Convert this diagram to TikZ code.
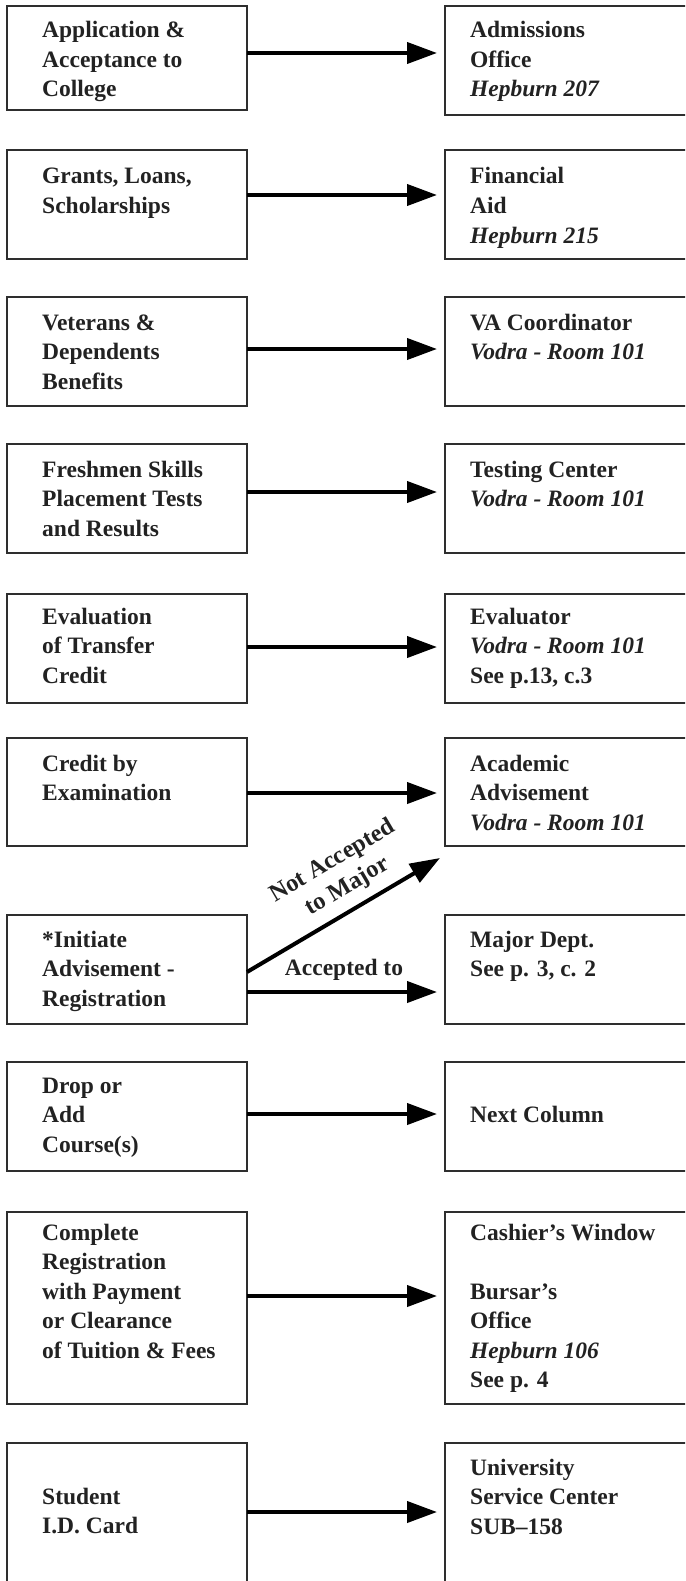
\documentclass[tikz,border=0pt]{standalone}
\usepackage{fontspec}
\setmainfont{Liberation Serif}
\usetikzlibrary{arrows.meta,calc}
\definecolor{bx}{HTML}{2E2E2E}
\definecolor{tx}{HTML}{222222}
\newcommand\fbody{\fontsize{23.5}{29.5}\selectfont\bfseries}
\newcommand\flab{\fontsize{24.5}{29.5}\selectfont\bfseries}
\newcommand\lines[1]{\parbox[t]{320pt}{\raggedright\fbody #1}}
\begin{document}
\begin{tikzpicture}[x=1pt,y=-1pt,
  lbox/.style={draw=bx, line width=2pt, anchor=north west, minimum width=240pt, inner sep=0pt, outer sep=0pt},
  rbox/.style={draw=bx, line width=2pt, anchor=north west, minimum width=260pt, inner sep=0pt, outer sep=0pt},
  txt/.style={anchor=base west, inner sep=0pt, text=tx},
  arr/.style={line width=4pt, -{Triangle[length=30pt,width=21pt]}},
  harr/.style={arr, shorten >=8pt},
]
\useasboundingbox (0,0) rectangle (685,1581);
\clip (0,0) rectangle (685,1581);

% boxes
\node[lbox, minimum height=104pt] (L1) at (7,6) {};
\node[rbox, minimum height=109pt] (R1) at (445,6) {};
\node[lbox, minimum height=109pt] (L2) at (7,150) {};
\node[rbox, minimum height=109pt] (R2) at (445,150) {};
\node[lbox, minimum height=109pt] (L3) at (7,297) {};
\node[rbox, minimum height=109pt] (R3) at (445,297) {};
\node[lbox, minimum height=109pt] (L4) at (7,444) {};
\node[rbox, minimum height=109pt] (R4) at (445,444) {};
\node[lbox, minimum height=109pt] (L5) at (7,594) {};
\node[rbox, minimum height=109pt] (R5) at (445,594) {};
\node[lbox, minimum height=108pt] (L6) at (7,738) {};
\node[rbox, minimum height=108pt] (R6) at (445,738) {};
\node[lbox, minimum height=109pt] (L7) at (7,915) {};
\node[rbox, minimum height=109pt] (R7) at (445,915) {};
\node[lbox, minimum height=109pt] (L8) at (7,1062) {};
\node[rbox, minimum height=109pt] (R8) at (445,1062) {};
\node[lbox, minimum height=192pt] (L9) at (7,1212) {};
\node[rbox, minimum height=192pt] (R9) at (445,1212) {};
\node[lbox, minimum height=160pt] (L10) at (7,1443) {};
\node[rbox, minimum height=160pt] (R10) at (445,1443) {};

% texts
\node[txt] (tL1) at (42,38) {\lines{Application \&\\Acceptance to\\College}};
\node[txt] (tR1) at (470,38) {\lines{Admissions\\Office\\\textit{Hepburn 207}}};
\node[txt] (tL2) at (42,184) {\lines{Grants, Loans,\\Scholarships}};
\node[txt] (tR2) at (470,184) {\lines{Financial\\Aid\\\textit{Hepburn 215}}};
\node[txt] (tL3) at (42,330) {\lines{Veterans \&\\Dependents\\Benefits}};
\node[txt] (tR3) at (470,330) {\lines{VA Coordinator\\\textit{Vodra - Room 101}}};
\node[txt] (tL4) at (42,477) {\lines{Freshmen Skills\\Placement Tests\\and Results}};
\node[txt] (tR4) at (470,477) {\lines{Testing Center\\\textit{Vodra - Room 101}}};
\node[txt] (tL5) at (42,624) {\lines{Evaluation\\of Transfer\\Credit}};
\node[txt] (tR5) at (470,624) {\lines{Evaluator\\\textit{Vodra - Room 101}\\See p.13, c.3}};
\node[txt] (tL6) at (42,771) {\lines{Credit by\\Examination}};
\node[txt] (tR6) at (470,771) {\lines{Academic\\Advisement\\\textit{Vodra - Room 101}}};
\node[txt] (tL7) at (42,947) {\lines{*Initiate\\Advisement -\\Registration}};
\node[txt] (tR7) at (470,947) {\lines{Major Dept.\\See p. 3, c. 2}};
\node[txt] (tL8) at (42,1093) {\lines{Drop or\\Add\\Course(s)}};
\node[txt] (tR8) at (470,1122) {\lines{Next Column}};
\node[txt] (tL9) at (42,1240) {\lines{Complete\\Registration\\with Payment\\or Clearance\\of Tuition \& Fees}};
\node[txt] (tR9) at (470,1240) {\lines{Cashier’s Window\\\mbox{}\\Bursar’s\\Office\\\textit{Hepburn 106}\\See p. 4}};
\node[txt] (tL10) at (42,1504) {\lines{Student\\I.D. Card}};
\node[txt] (tR10) at (470,1475) {\lines{University\\Service Center\\SUB–158}};

% connectors
\draw[harr] (L1.east |- 0,53) -- (R1.west |- 0,53);
\draw[harr] (L2.east |- 0,195) -- (R2.west |- 0,195);
\draw[harr] (L3.east |- 0,349) -- (R3.west |- 0,349);
\draw[harr] (L4.east |- 0,492) -- (R4.west |- 0,492);
\draw[harr] (L5.east |- 0,647) -- (R5.west |- 0,647);
\draw[harr] (L6.east |- 0,793) -- (R6.west |- 0,793);
\draw[harr] (L7.east |- 0,992) -- (R7.west |- 0,992);
\draw[harr] (L8.east |- 0,1114) -- (R8.west |- 0,1114);
\draw[harr] (L9.east |- 0,1296) -- (R9.west |- 0,1296);
\draw[harr] (L10.east |- 0,1512) -- (R10.west |- 0,1512);

\coordinate (dtip) at ($(R6.south west)+(-5,12)$);
\draw[arr] (L7.east |- 0,972) -- (dtip)
  node[pos=0.58, sloped, above=9pt, anchor=south, align=center, inner sep=0pt, text=tx, font=\flab] (na) {Not Accepted\\to Major};
\node[anchor=base, inner sep=0pt, text=tx, font=\fbody] (acc) at (344,975) {Accepted to};
\end{tikzpicture}
\end{document}
